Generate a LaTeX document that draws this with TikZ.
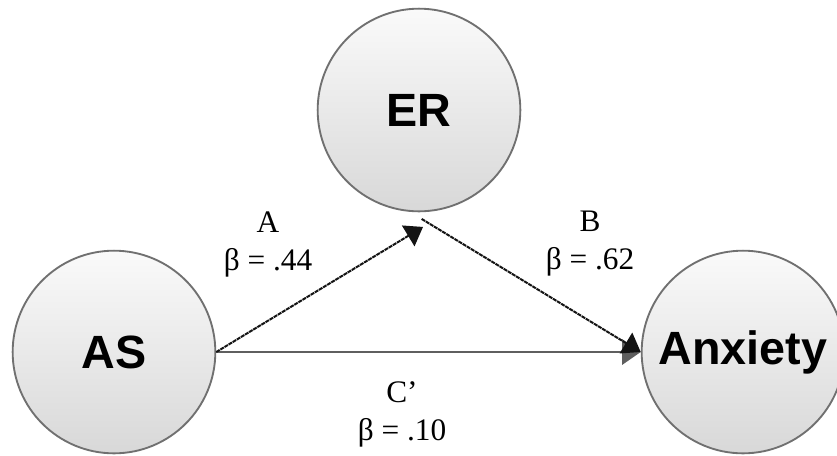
\documentclass[tikz,border=0pt]{standalone}
\usepackage{fontspec}
\setmainfont{Liberation Serif}
\setsansfont{Liberation Sans}
\usepackage{xcolor}
\usepackage{tikz}
\usetikzlibrary{arrows.meta, positioning}
\definecolor{circtop}{RGB}{250,250,250}
\definecolor{circbot}{RGB}{216,216,216}
\definecolor{circline}{RGB}{112,112,112}
\definecolor{pathdark}{RGB}{20,20,20}
\definecolor{pathgray}{RGB}{95,95,95}
\tikzstyle{var} = [circle, draw=circline, line width=1.4pt, top color=circtop, bottom color=circbot, minimum size=152pt, inner sep=0pt, font=\sffamily\bfseries\fontsize{35}{40}\selectfont]
\tikzstyle{coef} = [align=center, font=\fontsize{23.5}{28.5}\selectfont]
\tikzstyle{patharrow} = [-{Triangle[length=13pt, width=18pt]}, pathdark, line width=1.5pt, dash pattern=on 3pt off 0.6pt]
\tikzstyle{directarrow} = [-{Triangle[length=14pt, width=19pt]}, pathgray, line width=1.8pt]

\begin{document}
\begin{tikzpicture}[x=0.75pt, y=-0.75pt]
    \useasboundingbox (0,0) rectangle (837,455);

    % Variables
    \node[var] (er) at (419,110) {ER};
    \node[var] (as) at (114,352) {AS};
    \node[var] (anx) at (743,352) {Anxiety};

    % Direct path
    \draw[directarrow] (as.east) -- (anx.west);

    % Indirect paths
    \draw[patharrow] (as.east) -- ([xshift=3pt, yshift=-11pt]er.south);
    \draw[patharrow] ([xshift=2pt, yshift=-5pt]er.south) -- (anx.west);

    % Coefficients
    \node[coef] (ca) at (268,244) {A\\β = .44};
    \node[coef] (cb) at (590,244) {B\\β = .62};
    \node[coef] (cc) at (402,414) {C’\\β = .10};
\end{tikzpicture}
\end{document}
